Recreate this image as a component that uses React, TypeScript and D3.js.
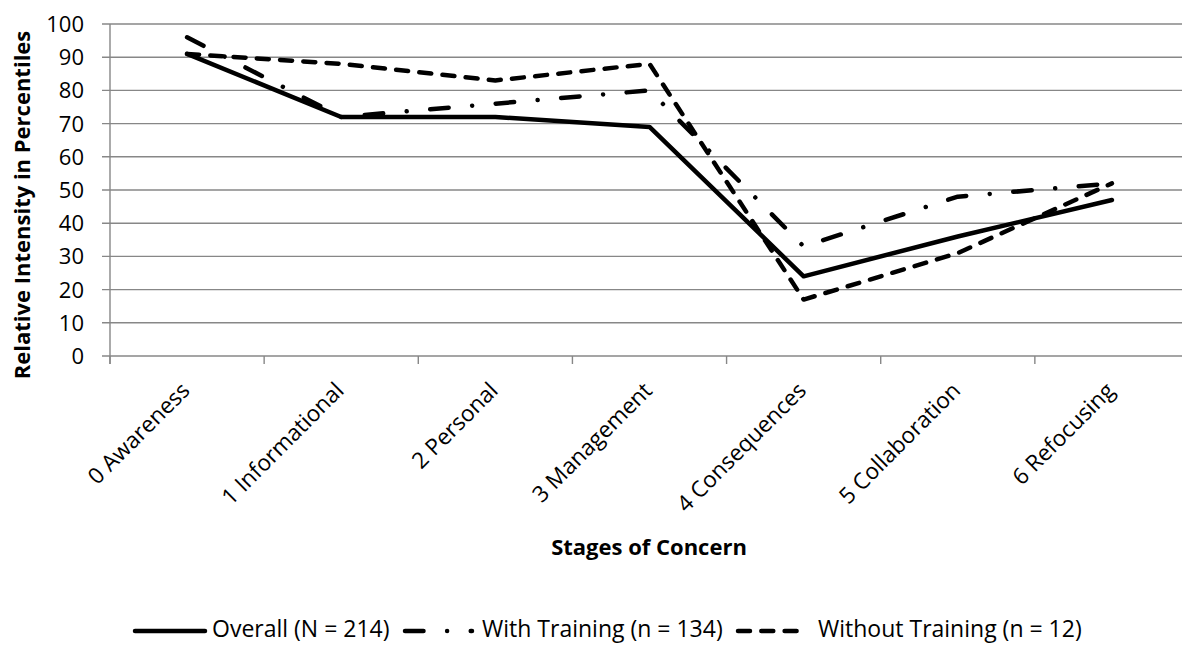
import React from 'react';
import {scaleBand, scaleLinear, line} from 'd3';

// stages of concern
const stages = ['0 Awareness', '1 Informational', '2 Personal', '3 Management', '4 Consequences', '5 Collaboration', '6 Refocusing'];
const overall = [91, 72, 72, 69, 24, 36, 47];
const withTraining = [96, 72, 76, 80, 33, 48, 52];
const withoutTraining = [91, 88, 83, 88, 17, 31, 52];
const yTicks = [0, 10, 20, 30, 40, 50, 60, 70, 80, 90, 100];
const seriesNames = ['Overall (N = 214)', 'With Training (n = 134)', 'Without Training (n = 12)'];

const W = 1182;
const H = 645;
const FONT = '"Open Sans", "Liberation Sans", sans-serif';
const GRID = '#878787';

// dash styles for the three series (solid, long dash dot, dash)
const dashes = ['none', '18.5 23.6 0.01 23.6', '12 11.3'];
// legend layout: where each sample line starts, where it ends, text start
const legendX = [[135, 205, 212], [405, 472, 482], [738, 803, 818]];
const legendY = 629;

const App = () => {
    const xScale = scaleBand<string>()
        .domain(stages)
        .range([110, 1189])
        .padding(0);
    const bw = xScale.bandwidth();
    const cx = (s: string) => (xScale(s) as number) + bw / 2;

    const yScale = scaleLinear()
        .domain([0, 100])
        .range([356, 24]);

    const lineGen = line<number>()
        .x((d, i) => cx(stages[i]))
        .y(d => yScale(d));

    const allSeries = [overall, withTraining, withoutTraining];

    return (
        <svg width={W} height={H} style={{position: 'absolute', left: 0, top: 0, background: '#fff'}}
             fontFamily={FONT}>
            {/* gridlines + y ticks */}
            {yTicks.map(t => (
                <g key={t}>
                    <line x1={102} x2={W} y1={yScale(t)} y2={yScale(t)} stroke={GRID} strokeWidth={1.4}/>
                    <text x={84} y={yScale(t)} dy="0.36em" textAnchor="end" fontSize={22} fill="#000">{t}</text>
                </g>
            ))}
            {/* y axis line */}
            <line x1={110} x2={110} y1={yScale(100)} y2={yScale(0) + 8} stroke={GRID} strokeWidth={1.4}/>
            {/* x tick marks at band edges */}
            {stages.map(s => (
                <line key={s} x1={xScale(s)} x2={xScale(s)} y1={yScale(0)} y2={yScale(0) + 8} stroke={GRID} strokeWidth={1.4}/>
            ))}
            {/* category labels */}
            {stages.map(s => (
                <text key={s} transform={`translate(${cx(s) + 4},392) rotate(-45)`} textAnchor="end" fontSize={22.5} fill="#000">{s}</text>
            ))}
            {/* series */}
            {allSeries.map((d, i) => (
                <path key={i} d={lineGen(d) as string} fill="none" stroke="#000" strokeWidth={4.5}
                      strokeDasharray={dashes[i]} strokeLinecap="round" strokeLinejoin="round"/>
            ))}
            {/* axis titles */}
            <text x={649} y={547} dy="0.36em" textAnchor="middle" fontSize={22} fontWeight="bold">Stages of Concern</text>
            <text transform="translate(22,205) rotate(-90)" dy="0.36em" textAnchor="middle" fontSize={22} fontWeight="bold">Relative Intensity in Percentiles</text>
            {/* legend */}
            {seriesNames.map((n, i) => (
                <g key={n}>
                    <line x1={legendX[i][0]} x2={legendX[i][1]} y1={legendY + 2} y2={legendY + 2} stroke="#000" strokeWidth={4.5}
                          strokeDasharray={dashes[i]} strokeLinecap="round"/>
                    <text x={legendX[i][2]} y={legendY} dy="0.36em" fontSize={23} fill="#000">{n}</text>
                </g>
            ))}
        </svg>
    );
};

export default App;
